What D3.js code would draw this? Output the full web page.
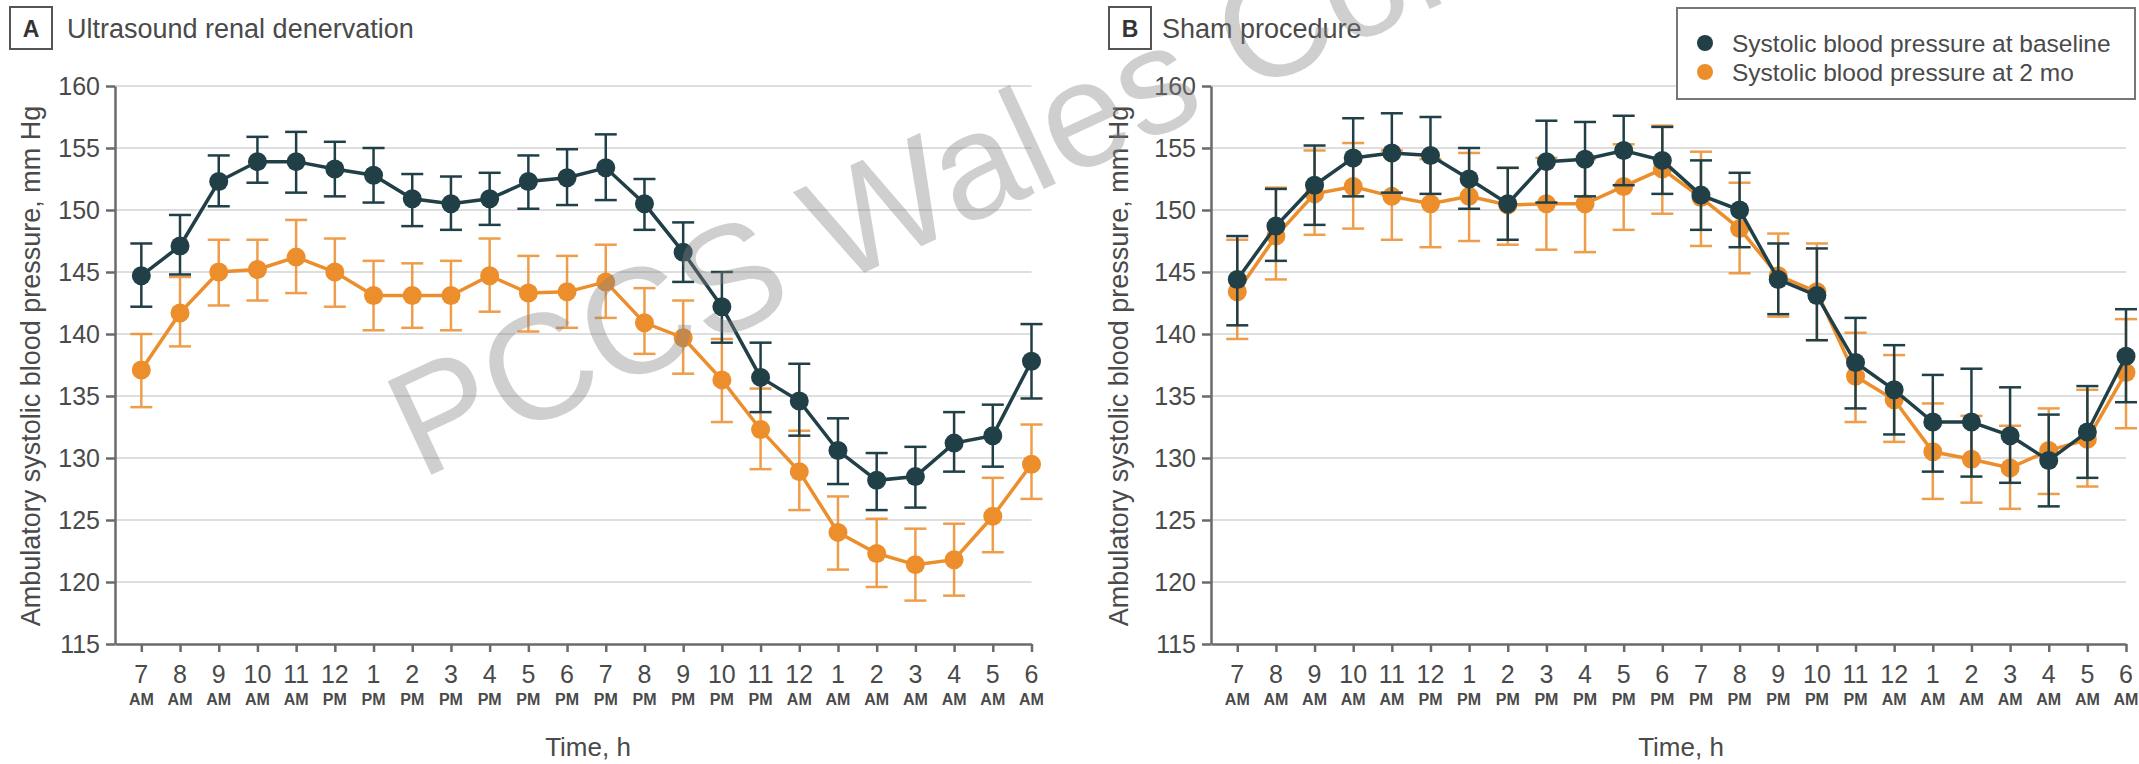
<!DOCTYPE html>
<html>
<head>
<meta charset="utf-8">
<script src="https://cdn.jsdelivr.net/npm/d3@7"></script>
<style>
  html, body { margin: 0; padding: 0; background: #fff; }
  svg { display: block; }
  text { font-family: "Liberation Sans", Arial, sans-serif; }
</style>
</head>
<body>
<script>
// ---------- DATA ----------
const hourLabels   = ["7","8","9","10","11","12","1","2","3","4","5","6","7","8","9","10","11","12","1","2","3","4","5","6"];
const periodLabels = ["AM","AM","AM","AM","AM","PM","PM","PM","PM","PM","PM","PM","PM","PM","PM","PM","PM","AM","AM","AM","AM","AM","AM","AM"];
const yTicks = [115,120,125,130,135,140,145,150,155,160];

// Panel A: Ultrasound renal denervation
const aBaseMean = [144.7,147.1,152.3,153.9,153.9,153.3,152.8,150.9,150.5,150.9,152.3,152.6,153.4,150.5,146.6,142.2,136.5,134.6,130.6,128.2,128.5,131.2,131.8,137.8];
const aBaseHi   = [147.3,149.6,154.4,155.9,156.3,155.5,155.0,152.9,152.7,153.0,154.4,154.9,156.1,152.5,149.0,145.0,139.3,137.6,133.2,130.4,130.9,133.7,134.3,140.8];
const aBaseLo   = [142.2,144.8,150.3,152.2,151.4,151.1,150.6,148.7,148.4,148.8,150.1,150.4,150.8,148.4,144.2,139.3,133.7,131.8,127.9,125.8,126.0,128.9,129.3,134.8];
const aPostMean = [137.1,141.7,145.0,145.2,146.2,145.0,143.1,143.1,143.1,144.7,143.3,143.4,144.2,140.9,139.7,136.3,132.3,128.9,124.0,122.3,121.4,121.8,125.3,129.5];
const aPostHi   = [140.0,144.6,147.6,147.6,149.2,147.7,145.9,145.7,145.9,147.7,146.3,146.3,147.2,143.7,142.7,139.6,135.6,132.2,126.9,125.1,124.3,124.7,128.4,132.7];
const aPostLo   = [134.1,139.0,142.3,142.7,143.3,142.2,140.3,140.5,140.3,141.8,140.2,140.5,141.3,138.4,136.8,132.9,129.1,125.8,121.0,119.6,118.5,118.9,122.4,126.7];

// Panel B: Sham procedure
const bBaseMean = [144.4,148.7,152.0,154.2,154.6,154.4,152.5,150.5,153.9,154.1,154.8,154.0,151.2,150.0,144.4,143.1,137.7,135.5,132.9,132.9,131.8,129.8,132.1,138.2];
const bBaseHi   = [147.9,151.7,155.2,157.4,157.8,157.5,155.0,153.4,157.2,157.1,157.6,156.7,154.0,153.0,147.3,146.9,141.3,139.1,136.7,137.2,135.7,133.5,135.8,142.0];
const bBaseLo   = [140.7,145.9,148.8,151.1,151.4,151.3,150.1,147.6,150.6,151.1,152.0,151.3,148.4,147.0,141.6,139.5,134.0,131.9,128.9,128.5,128.0,126.1,128.4,134.5];
const bPostMean = [143.4,147.9,151.3,151.9,151.1,150.5,151.1,150.4,150.5,150.5,151.9,153.3,151.0,148.5,144.7,143.4,136.6,134.7,130.5,129.9,129.2,130.6,131.5,136.9];
const bPostHi   = [147.6,151.8,154.8,155.4,154.8,154.1,154.6,153.4,154.2,154.1,155.3,156.8,154.7,152.2,148.1,147.3,140.1,138.3,134.4,133.4,132.6,134.0,135.5,141.2];
const bPostLo   = [139.6,144.4,148.0,148.5,147.6,147.0,147.5,147.2,146.8,146.6,148.4,149.7,147.1,144.9,141.4,139.5,132.9,131.3,126.7,126.4,125.9,127.1,127.7,132.4];

const seriesNames = ["Systolic blood pressure at baseline", "Systolic blood pressure at 2 mo"];
const panelLetters = ["A", "B"];
const panelTitles = ["Ultrasound renal denervation", "Sham procedure"];
const yAxisTitle = "Ambulatory systolic blood pressure, mm Hg";
const xAxisTitle = "Time, h";

// ---------- STYLE / LAYOUT ----------
const W = 2139, H = 764;
const DARK = "#213f47", ORANGE = "#ec8e2c";
const TEXT = "#4a4a4a", AXIS = "#6a6a6a", GRID = "#dedede";
const plotTop = 86, plotBottom = 644;

const panels = [
  { left: 115, right: 1031.5, boxX: 10, titleX: 67, yLabX: 40, timeX: 588,
    base: [aBaseMean, aBaseLo, aBaseHi], post: [aPostMean, aPostLo, aPostHi] },
  { left: 1211, right: 2126, boxX: 1109, titleX: 1162, yLabX: 1128, timeX: 1681,
    base: [bBaseMean, bBaseLo, bBaseHi], post: [bPostMean, bPostLo, bPostHi] }
];

const svg = d3.select("body").append("svg").attr("width", W).attr("height", H);

const y = d3.scaleLinear().domain([115, 160]).range([plotBottom, plotTop]);

panels.forEach((p, pi) => {
  const x = d3.scaleLinear().domain([-0.68, hourLabels.length - 1]).range([p.left, p.right]);
  const g = svg.append("g");

  // gridlines
  g.selectAll("line.grid").data(yTicks.filter(v => v > 115)).join("line")
    .attr("class", "grid")
    .attr("x1", p.left).attr("x2", x(hourLabels.length - 1))
    .attr("y1", d => y(d)).attr("y2", d => y(d))
    .attr("stroke", GRID).attr("stroke-width", 2);

  // y axis
  const ya = g.append("g").attr("transform", `translate(${p.left},0)`)
    .call(d3.axisLeft(y).tickValues(yTicks).tickSize(9).tickSizeOuter(0).tickPadding(6));
  ya.select(".domain").attr("stroke", AXIS).attr("stroke-width", 2.5);
  ya.selectAll(".tick line").attr("stroke", AXIS).attr("stroke-width", 2.5);
  ya.selectAll(".tick text").attr("fill", TEXT).attr("font-size", 25)
    .attr("font-family", '"Liberation Sans", Arial, sans-serif');

  // x axis
  const xa = g.append("g").attr("transform", `translate(0,${plotBottom})`)
    .call(d3.axisBottom(x).tickValues(d3.range(hourLabels.length)).tickSize(8).tickSizeOuter(0).tickFormat(""));
  xa.select(".domain").attr("stroke", AXIS).attr("stroke-width", 2.5);
  xa.selectAll(".tick line").attr("stroke", AXIS).attr("stroke-width", 2.5);

  const lab = g.selectAll("g.xl").data(hourLabels).join("g")
    .attr("class", "xl")
    .attr("transform", (d, i) => `translate(${x(i)},0)`);
  lab.append("text").attr("y", 683).attr("text-anchor", "middle")
    .attr("font-size", 25).attr("fill", TEXT).text(d => d);
  lab.append("text").attr("y", 705).attr("text-anchor", "middle")
    .attr("font-size", 16).attr("fill", TEXT).attr("font-weight", "bold")
    .text((d, i) => periodLabels[i]);

  // axis titles
  g.append("text").attr("transform", `translate(${p.yLabX},${(plotTop + plotBottom) / 2 + 1}) rotate(-90)`)
    .attr("text-anchor", "middle").attr("font-size", 27).attr("fill", TEXT).text(yAxisTitle);
  g.append("text").attr("x", p.timeX).attr("y", 756).attr("text-anchor", "middle")
    .attr("font-size", 26).attr("fill", TEXT).text(xAxisTitle);

  // panel label
  g.append("rect").attr("x", p.boxX).attr("y", 7).attr("width", 42).attr("height", 42)
    .attr("fill", "none").attr("stroke", "#555").attr("stroke-width", 2);
  g.append("text").attr("x", p.boxX + 21).attr("y", 37).attr("text-anchor", "middle")
    .attr("font-size", 23).attr("font-weight", "bold").attr("fill", "#333").text(panelLetters[pi]);
  g.append("text").attr("x", p.titleX).attr("y", 38).attr("font-size", 27).attr("fill", TEXT)
    .text(panelTitles[pi]);

  // series: 2 mo first, then baseline on top
  [[p.post, ORANGE, 0.85], [p.base, DARK, 1]].forEach(([s, col, op]) => {
    const [mean, lo, hi] = s;
    const sg = g.append("g");
    const eb = sg.selectAll("g.eb").data(mean).join("g").attr("class", "eb").attr("opacity", op);
    eb.append("line").attr("x1", (d, i) => x(i)).attr("x2", (d, i) => x(i))
      .attr("y1", (d, i) => y(lo[i])).attr("y2", (d, i) => y(hi[i]))
      .attr("stroke", col).attr("stroke-width", 2.5);
    [lo, hi].forEach(arr => {
      eb.append("line").attr("x1", (d, i) => x(i) - 11).attr("x2", (d, i) => x(i) + 11)
        .attr("y1", (d, i) => y(arr[i])).attr("y2", (d, i) => y(arr[i]))
        .attr("stroke", col).attr("stroke-width", 2.5);
    });
    sg.append("path").datum(mean)
      .attr("d", d3.line().x((d, i) => x(i)).y(d => y(d)))
      .attr("fill", "none").attr("stroke", col).attr("stroke-width", 3.5);
    sg.selectAll("circle").data(mean).join("circle")
      .attr("cx", (d, i) => x(i)).attr("cy", d => y(d)).attr("r", 9.5).attr("fill", col);
  });
});

// legend
const lg = svg.append("g");
lg.append("rect").attr("x", 1677).attr("y", 8).attr("width", 458).attr("height", 91)
  .attr("fill", "#fff").attr("stroke", "#777").attr("stroke-width", 2);
[DARK, ORANGE].forEach((c, i) => {
  lg.append("circle").attr("cx", 1705).attr("cy", 43 + i * 29).attr("r", 8).attr("fill", c);
  lg.append("text").attr("x", 1732).attr("y", 52 + i * 29).attr("font-size", 24.5)
    .attr("fill", TEXT).text(seriesNames[i]);
});

// watermark
const wm = svg.append("g").attr("transform", "translate(836,286) rotate(-25)")
  .attr("fill", "#808080").attr("fill-opacity", 0.38).attr("font-size", 150);
wm.append("text").attr("text-anchor", "end").attr("x", -42).text("PCCS");
wm.append("text").attr("text-anchor", "start").attr("x", 0).text("Wales Confidential");
</script>
</body>
</html>
